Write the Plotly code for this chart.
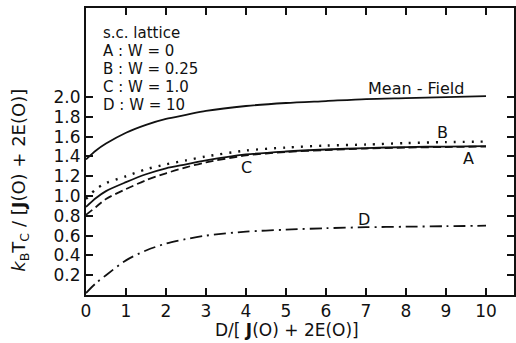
import plotly.graph_objects as go

# ---- data ----
x_vals = [0, 0.25, 0.5, 1, 1.5, 2, 2.5, 3, 4, 5, 6, 7, 8, 9, 10]
mean_field = [1.37, 1.46, 1.53, 1.64, 1.72, 1.78, 1.82, 1.86, 1.91, 1.94, 1.96, 1.98, 1.99, 2.00, 2.01]
curve_a = [0.89, 0.98, 1.05, 1.14, 1.22, 1.28, 1.32, 1.36, 1.42, 1.45, 1.47, 1.485, 1.495, 1.50, 1.505]
curve_b = [0.97, 1.07, 1.13, 1.20, 1.27, 1.32, 1.36, 1.40, 1.46, 1.49, 1.51, 1.52, 1.535, 1.545, 1.55]
curve_c = [0.81, 0.89, 0.97, 1.07, 1.16, 1.23, 1.29, 1.34, 1.41, 1.445, 1.465, 1.48, 1.49, 1.495, 1.50]
curve_d = [0.02, 0.12, 0.20, 0.35, 0.45, 0.52, 0.565, 0.60, 0.64, 0.66, 0.675, 0.685, 0.69, 0.695, 0.70]

x_ticks = list(range(0, 11))
y_ticks = [0.2, 0.4, 0.6, 0.8, 1.0, 1.2, 1.4, 1.6, 1.8, 2.0]
y_tick_text = [f"{v:.1f}" for v in y_ticks]

legend_lines = ["s.c. lattice", "A : W = 0", "B : W = 0.25", "C : W = 1.0", "D : W = 10"]

FONT = "DejaVu Sans"
BLACK = "#111111"

fig = go.Figure()
series = [
    (mean_field, "solid", 1.8),
    (curve_a, "solid", 1.8),
    (curve_b, "2px,7px", 2.4),
    (curve_c, "8px,4px", 1.8),
    (curve_d, "12px,5px,2px,5px", 1.8),
]
for ys, dash, w in series:
    fig.add_trace(go.Scatter(
        x=x_vals, y=ys, mode="lines",
        line=dict(color=BLACK, width=w, dash=dash, shape="spline", smoothing=0.8),
        showlegend=False, hoverinfo="skip",
    ))

annotations = []
# legend block (top-left)
legend_y = [2.65, 2.465, 2.285, 2.10, 1.915]
for txt, yy in zip(legend_lines, legend_y):
    annotations.append(dict(x=0.38, y=yy, xref="x", yref="y", text=txt, showarrow=False,
                            xanchor="left", yanchor="middle",
                            font=dict(family=FONT, size=15, color=BLACK)))
# curve labels
for txt, xx, yy in [("Mean - Field", 8.26, 2.09), ("B", 8.9, 1.64), ("A", 9.55, 1.38),
                    ("C", 4.0, 1.29), ("D", 6.94, 0.76)]:
    annotations.append(dict(x=xx, y=yy, xref="x", yref="y", text=txt, showarrow=False,
                            xanchor="center", yanchor="middle",
                            font=dict(family=FONT, size=16, color=BLACK)))
# axis titles
annotations.append(dict(x=0.47, y=-0.122, xref="paper", yref="paper",
                        text="D/[ <b>J</b>(O) + 2E(O)]", showarrow=False,
                        xanchor="center", yanchor="middle",
                        font=dict(family=FONT, size=17, color=BLACK)))
annotations.append(dict(x=-0.153, y=0.40, xref="paper", yref="paper",
                        text="<i>k</i><sub>B</sub>T<sub>C</sub> / [<b>J</b>(O) + 2E(O)]",
                        showarrow=False, textangle=-90,
                        xanchor="center", yanchor="middle",
                        font=dict(family=FONT, size=18, color=BLACK)))

fig.update_layout(
    width=516, height=343,
    margin=dict(l=86, r=0, t=8, b=48),
    paper_bgcolor="white", plot_bgcolor="white",
    annotations=annotations,
    xaxis=dict(range=[0, 10.7], tickmode="array", tickvals=x_ticks,
               ticks="inside", ticklen=7, tickwidth=1.5, tickcolor=BLACK,
               showline=True, linecolor=BLACK, linewidth=2, mirror="ticks",
               showgrid=False, zeroline=False,
               tickfont=dict(family=FONT, size=17, color=BLACK)),
    yaxis=dict(range=[0, 2.9], tickmode="array", tickvals=y_ticks, ticktext=y_tick_text,
               ticks="inside", ticklen=7, tickwidth=1.5, tickcolor=BLACK,
               showline=True, linecolor=BLACK, linewidth=2, mirror="ticks",
               showgrid=False, zeroline=False,
               tickfont=dict(family=FONT, size=17, color=BLACK)),
)

# remove the default 8px page margin so the 516x343 figure fills the window exactly
fig.write_html("out.html", config={"displayModeBar": False},
               post_script="document.body.style.margin='0';")
